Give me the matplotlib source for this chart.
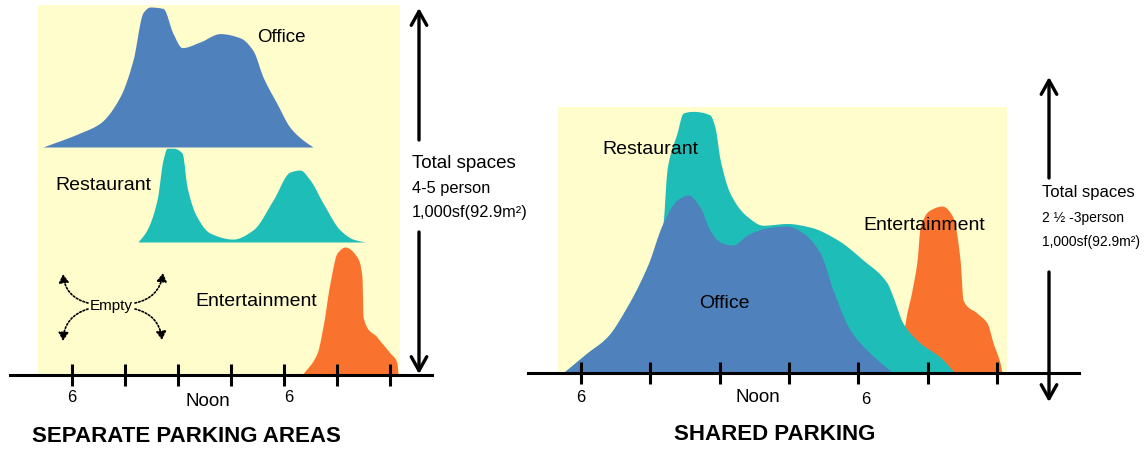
import numpy as np
import matplotlib
matplotlib.use('Agg')
import matplotlib.pyplot as plt
from matplotlib.patches import FancyArrowPatch, Rectangle

plt.rcParams['font.family'] = ['Liberation Sans', 'DejaVu Sans']

# ---- data (hours of day, demand in % of office peak) ----
tick_hours = [6, 9, 12, 15, 18, 21, 24]

# separate parking areas
office_sep_hours = [4.36, 6.45, 7.58, 8.72, 9.45, 10.02, 10.41, 11.15, 11.72, 12.23,
                    13.24, 14.38, 15.51, 16.24, 16.81, 17.60, 18.34, 19.07, 19.64]
office_sep = [0, 10, 17, 36, 62, 96, 100, 99, 81, 71, 75, 81, 78, 69, 50, 31, 14, 5, 0]

rest_sep_hours = [9.74, 10.24, 10.81, 11.15, 11.38, 11.72, 12.23, 12.51, 13.07, 13.81,
                  15.11, 16.24, 17.38, 18.34, 18.90, 19.47, 20.20, 21.17, 21.90, 22.58]
rest_sep = [0, 8.6, 30, 58.6, 67, 67, 63.6, 39.3, 17.9, 6.4,
            2.1, 8.6, 30, 50, 51.4, 44.3, 27.9, 8.6, 2.1, 0]

ent_sep_hours = [19.02, 19.87, 20.20, 20.60, 21.0, 21.45, 22.13, 22.41, 22.47, 23.26,
                 24.0, 24.39, 24.45]
ent_sep = [0, 15.7, 34.3, 65.7, 87.1, 91.4, 84.3, 70, 41.4, 27.1, 15.7, 8.6, 0]

# shared parking
office_sh_hours = [5.22, 6.26, 7.13, 7.99, 8.86, 9.55, 10.16, 10.63, 11.15, 11.58, 12.02,
                   12.58, 13.19, 14.05, 14.92, 15.61, 16.35, 16.91, 17.65, 18.51, 19.51]
office_sh = [0, 11.2, 20.2, 37.1, 59.6, 84.3, 97.2, 100, 93.3, 80.3, 73.6,
             71.9, 77.5, 81.5, 82.6, 78.7, 67.4, 46.6, 24.2, 11.2, 0]

# office + restaurant (stacked top)
office_rest_sh_hours = [5.22, 6.26, 7.13, 7.99, 8.86, 9.55, 9.72, 10.16, 10.42, 10.85,
                        11.58, 11.80, 12.02, 12.45, 13.19, 13.88, 14.92, 15.91, 17.08,
                        18.21, 19.25, 19.51, 19.94, 20.68, 21.54, 22.19]
office_rest_sh = [0, 11.2, 20.2, 37.1, 59.6, 84.3, 114, 135, 146, 147,
                  145, 138, 120, 101, 88, 83, 84, 82, 75,
                  63.5, 50.6, 42.7, 28, 16.9, 9, 0]

ent_sh_hours = [19.81, 20.03, 20.33, 20.55, 20.68, 21.11, 21.63, 22.10, 22.41, 22.54,
                23.14, 23.58, 23.84, 24.14, 24.23]
ent_sh = [0, 28, 46.6, 63.5, 82, 91.6, 93.8, 87.6, 63.5, 41, 33.7, 28, 16.9, 5.6, 0]

BLUE = '#4F81BD'
TEAL = '#1FBDB7'
ORANGE = '#F9732F'
YELLOW = '#FFFDCC'

W, H = 1145, 451


def smooth(hours, vals, n=400):
    # monotone cubic through the read points, only for drawing
    x = np.asarray(hours, float)
    y = np.asarray(vals, float)
    h = np.diff(x)
    d = np.diff(y) / h
    m = np.zeros_like(y)
    m[0], m[-1] = d[0], d[-1]
    for k in range(1, len(x) - 1):
        if d[k - 1] * d[k] > 0:
            w1 = 2 * h[k] + h[k - 1]
            w2 = h[k] + 2 * h[k - 1]
            m[k] = (w1 + w2) / (w1 / d[k - 1] + w2 / d[k])
    xs = np.linspace(x[0], x[-1], n)
    i = np.clip(np.searchsorted(x, xs) - 1, 0, len(x) - 2)
    t = (xs - x[i]) / h[i]
    ys = ((2 * t**3 - 3 * t**2 + 1) * y[i] + (t**3 - 2 * t**2 + t) * h[i] * m[i]
          + (-2 * t**3 + 3 * t**2) * y[i + 1] + (t**3 - t**2) * h[i] * m[i + 1])
    return xs, np.maximum(ys, 0)


def panel(fig, px_l, px_r, x0px, pxh, y0px, pxu, line_l, line_r, bg):
    ax = fig.add_axes([px_l / W, 0, (px_r - px_l) / W, 1])
    hr = lambda p: 6 + (p - x0px) / pxh
    ax.set_xlim(hr(px_l), hr(px_r))
    ax.set_ylim(-(H - y0px) / pxu, y0px / pxu)
    ax.patch.set_alpha(0)
    for s in ['top', 'left', 'right']:
        ax.spines[s].set_visible(False)
    ax.spines['bottom'].set_position(('data', 0))
    ax.spines['bottom'].set_linewidth(2.2)
    ax.spines['bottom'].set_bounds(hr(line_l), hr(line_r))
    ax.set_yticks([])
    ax.set_xticks(tick_hours)
    ax.tick_params(axis='x', direction='inout', length=16, width=2.2, labelbottom=False)
    bx0, bx1, btop = bg
    ax.add_patch(Rectangle((hr(bx0), 0), hr(bx1) - hr(bx0), (y0px - btop) / pxu,
                           facecolor=YELLOW, edgecolor='none', zorder=0.5))
    return ax


fig = plt.figure(figsize=(W / 100, H / 100), dpi=100)

# left panel: 1.4 px per unit
axl = panel(fig, 0, 440, 72, 17.67, 375, 1.4, 10, 432, (38, 400, 5))
office_base = (375 - 147) / 1.4
rest_base = (375 - 242) / 1.4
xs, ys = smooth(office_sep_hours, office_sep)
axl.fill_between(xs, office_base, office_base + ys, color=BLUE, lw=0)
xs, ys = smooth(rest_sep_hours, rest_sep)
axl.fill_between(xs, rest_base, rest_base + ys, color=TEAL, lw=0)
xs, ys = smooth(ent_sep_hours, ent_sep)
axl.fill_between(xs, 0, ys, color=ORANGE, lw=0)

# right panel: 1.78 px per unit
axr = panel(fig, 440, 1145, 581, 23.1, 373, 1.78, 528, 1079, (558, 1007, 107))
xs, ys = smooth(ent_sh_hours, ent_sh)
axr.fill_between(xs, 0, ys, color=ORANGE, lw=0)
xs, ys = smooth(office_rest_sh_hours, office_rest_sh)
axr.fill_between(xs, 0, ys, color=TEAL, lw=0)
xs, ys = smooth(office_sh_hours, office_sh)
axr.fill_between(xs, 0, ys, color=BLUE, lw=0)

# overlay in pixel coords for labels and arrows
ov = fig.add_axes([0, 0, 1, 1], zorder=5)
ov.set_xlim(0, W)
ov.set_ylim(H, 0)
ov.axis('off')

ov.text(257, 37, 'Office', fontsize=13.5, va='center')
ov.text(55, 185, 'Restaurant', fontsize=14, va='center')
ov.text(195, 302, 'Entertainment', fontsize=14, va='center')
ov.text(111, 306, 'Empty', fontsize=11, ha='center', va='center')

ov.text(602, 150, 'Restaurant', fontsize=14, va='center')
ov.text(863, 226, 'Entertainment', fontsize=14, va='center')
ov.text(724, 304, 'Office', fontsize=14, ha='center', va='center')

for x, y, s, fs in [(72, 398, '6', 12), (208, 402, 'Noon', 13.5), (289, 398, '6', 12),
                    (581, 398, '6', 12), (758, 398, 'Noon', 13.5), (866, 399, '6', 12)]:
    ov.text(x, y, s, fontsize=fs, ha='center', va='center')

ov.text(32, 437, 'SEPARATE PARKING AREAS', fontsize=16, fontweight='bold', va='center')
ov.text(775, 435, 'SHARED PARKING', fontsize=16, fontweight='bold', ha='center', va='center')

# total spaces notes (left text is larger than the right one)
for x, y0, lines, fs in [(412, 163, ['4-5 person', '1,000sf(92.9m²)'], (13.5, 11.8)),
                         (1042, 193, ['2 ½ -3person', '1,000sf(92.9m²)'], (12, 10))]:
    ov.text(x, y0, 'Total spaces', fontsize=fs[0], va='center')
    ov.text(x, y0 + 25, lines[0], fontsize=fs[1], va='center')
    ov.text(x, y0 + 49, lines[1], fontsize=fs[1], va='center')

for x, a, b in [(419, 140, 8), (419, 232, 374), (1049, 178, 77), (1049, 272, 402)]:
    ov.add_patch(FancyArrowPatch((x, a), (x, b), arrowstyle='->,head_length=0.5,head_width=0.28',
                                 mutation_scale=20, lw=2.4, color='black', shrinkA=0, shrinkB=0))

# dotted arrows around "Empty"
for p0, p1, rad in [((88, 303), (63, 274), -0.35), ((88, 309), (63, 341), 0.35),
                    ((135, 303), (163, 273), 0.35), ((135, 309), (162, 340), -0.35)]:
    ov.add_patch(FancyArrowPatch(p0, p1, connectionstyle='arc3,rad=%.2f' % rad,
                                 arrowstyle='-|>,head_length=0.5,head_width=0.3', mutation_scale=10,
                                 lw=1.2, ls=(0, (1, 1.2)), color='black', shrinkA=0, shrinkB=0))

fig.savefig('out.png', dpi=100)
